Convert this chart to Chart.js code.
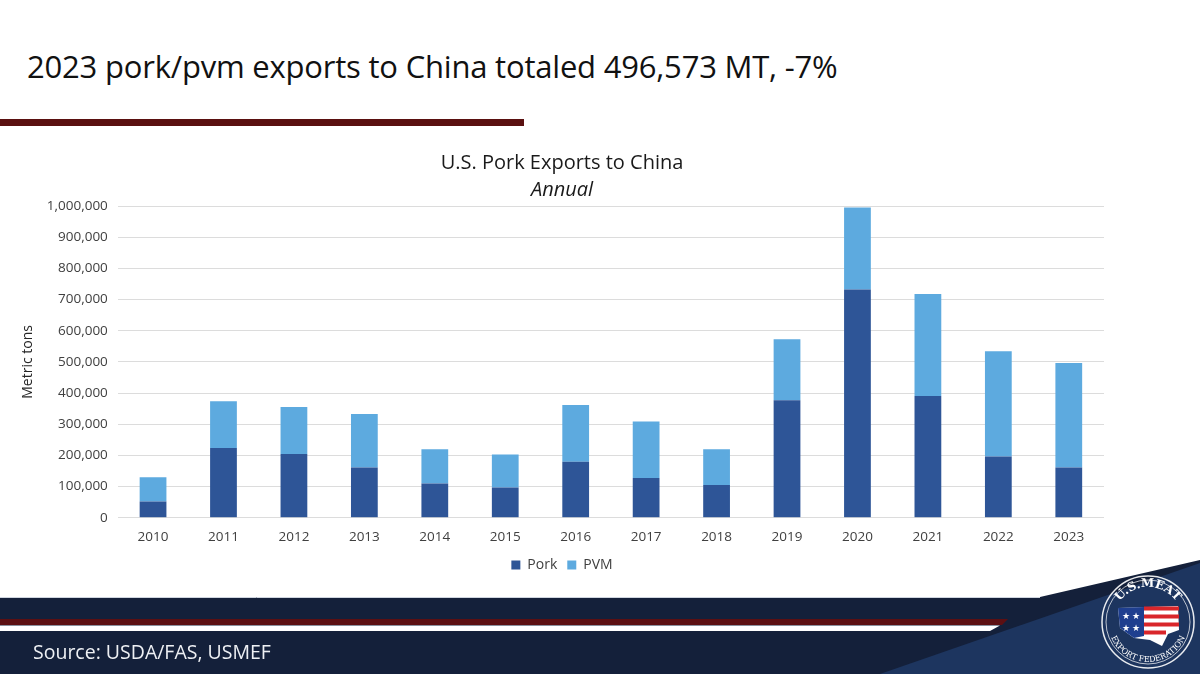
<!DOCTYPE html>
<html>
<head>
<meta charset="utf-8">
<script src="https://cdn.jsdelivr.net/npm/chart.js@4/dist/chart.umd.min.js"></script>
<style>
  html,body{margin:0;padding:0;background:#fff;}
  #slide{position:relative;width:1200px;height:674px;overflow:hidden;background:#fff;font-family:"Open Sans",sans-serif;}
  #headline{position:absolute;left:27px;top:45px;font-size:31px;color:#111;white-space:nowrap;letter-spacing:-0.2px;}
  #redbar{position:absolute;left:0;top:119px;width:524px;height:7px;background:#5a1010;}
  #chartWrap{position:absolute;left:0;top:140px;width:1140px;height:450px;}
  #footer{position:absolute;left:0;top:555px;}
  #source{position:absolute;left:33px;top:638px;font-size:19.5px;color:#eef0f4;white-space:nowrap;}
</style>
</head>
<body>
<div id="slide">
  <div id="headline">2023 pork/pvm exports to China totaled 496,573 MT, -7%</div>
  <div id="redbar"></div>
  <div id="chartWrap"><canvas id="c" width="1140" height="450"></canvas></div>
  <svg id="footer" width="1200" height="119" viewBox="0 555 1200 119">
    <polygon points="0,597 1040,597 1200,560 1200,674 0,674" fill="#14203a"/>
    <line x1="0" y1="597.5" x2="1040" y2="597.5" stroke="#cfd5df" stroke-width="1"/>
    <polygon points="0,619 1008,619 1002,625 0,625" fill="#5c0f12"/>
    <polygon points="0,625.5 1000,625.5 990,631 0,631" fill="#ffffff"/>
    <polygon points="880,674 1200,563 1200,674" fill="#1d355f"/>
    <g transform="translate(1148,622)">
      <circle r="46" fill="none" stroke="#ffffff" stroke-width="1.5" opacity="0.9"/>
      <circle r="42" fill="none" stroke="#ffffff" stroke-width="1" opacity="0.7"/>
      <defs>
        <path id="arcTop" d="M -35,0 A 35,35 0 0 1 35,0"/>
        <path id="arcBot" d="M -40,0 A 40,40 0 0 0 40,0"/>
      </defs>
      <text font-family="DejaVu Serif" font-size="12" font-weight="bold" fill="#fff"><textPath href="#arcTop" startOffset="50%" text-anchor="middle">U.S.MEAT</textPath></text>
      <text font-family="DejaVu Serif" font-size="8" fill="#fff"><textPath href="#arcBot" startOffset="50%" text-anchor="middle">EXPORT FEDERATION</textPath></text>
      <path d="M -30,-14 L 30,-16 L 31,8 L 20,12 L 14,24 L 2,18 L -14,16 L -28,6 Z" fill="#ffffff"/>
      <path d="M -30,-14 L -4,-15 L -4,14 L -14,16 L -28,6 Z" fill="#1f3f8f"/>
      <rect x="-4" y="-15.5" width="35" height="4" fill="#d9262b"/>
      <rect x="-4" y="-7.5" width="35" height="4" fill="#d9262b"/>
      <rect x="-4" y="0.5" width="35" height="4" fill="#d9262b"/>
      <rect x="-4" y="8.5" width="22" height="4" fill="#d9262b"/>
      <text x="-17" y="-3" font-size="9" fill="#fff" text-anchor="middle">★ ★</text>
      <text x="-17" y="9" font-size="9" fill="#fff" text-anchor="middle">★ ★</text>
    </g>
  </svg>
  <div id="source">Source: USDA/FAS, USMEF</div>
</div>
<script>
const years = ["2010","2011","2012","2013","2014","2015","2016","2017","2018","2019","2020","2021","2022","2023"];
const porkValues = [52000,224000,205000,161000,110000,97000,180000,128000,105000,377000,732000,391000,197000,161000];
const pvmValues  = [78000,150000,150000,172000,110000,106000,182000,181000,115000,196000,263000,327000,337000,335573];
const yTickMax = 1000000;
const yTickStep = 100000;

const fontFamily = '"Open Sans", sans-serif';

new Chart(document.getElementById('c'), {
  type: 'bar',
  data: {
    labels: years,
    datasets: [
      { label: 'Pork', data: porkValues, backgroundColor: '#2E5597', barPercentage: 0.38, categoryPercentage: 1.0 },
      { label: 'PVM',  data: pvmValues,  backgroundColor: '#5DAADF', barPercentage: 0.38, categoryPercentage: 1.0 }
    ]
  },
  options: {
    responsive: false,
    animation: false,
    layout: { padding: { left: 20, right: 36, top: 0, bottom: 8 } },
    scales: {
      x: {
        stacked: true,
        grid: { display: false },
        border: { display: false },
        ticks: { color: '#404040', font: { family: fontFamily, size: 13.5 }, padding: 3 }
      },
      y: {
        stacked: true,
        min: 0,
        max: yTickMax,
        grid: { color: '#dcdcdc', lineWidth: 1, drawTicks: false },
        border: { display: false },
        ticks: {
          stepSize: yTickStep,
          color: '#404040',
          padding: 10,
          font: { family: fontFamily, size: 13.5 },
          callback: v => v.toLocaleString('en-US')
        },
        title: { display: true, text: 'Metric tons', color: '#262626', font: { family: fontFamily, size: 14 }, padding: { top: 0, bottom: 0 } }
      }
    },
    plugins: {
      title: { display: true, text: 'U.S. Pork Exports to China', color: '#1a1a1a', font: { family: fontFamily, size: 20, weight: 'normal' }, padding: { top: 11, bottom: 3 } },
      subtitle: { display: true, text: 'Annual', color: '#1a1a1a', font: { family: fontFamily, size: 20, style: 'italic' }, padding: { top: 0, bottom: 4 } },
      legend: {
        position: 'bottom',
        labels: { boxWidth: 9, boxHeight: 9, color: '#404040', font: { family: fontFamily, size: 14 }, padding: 10 }
      },
      tooltip: { enabled: false }
    }
  }
});
</script>
</body>
</html>
